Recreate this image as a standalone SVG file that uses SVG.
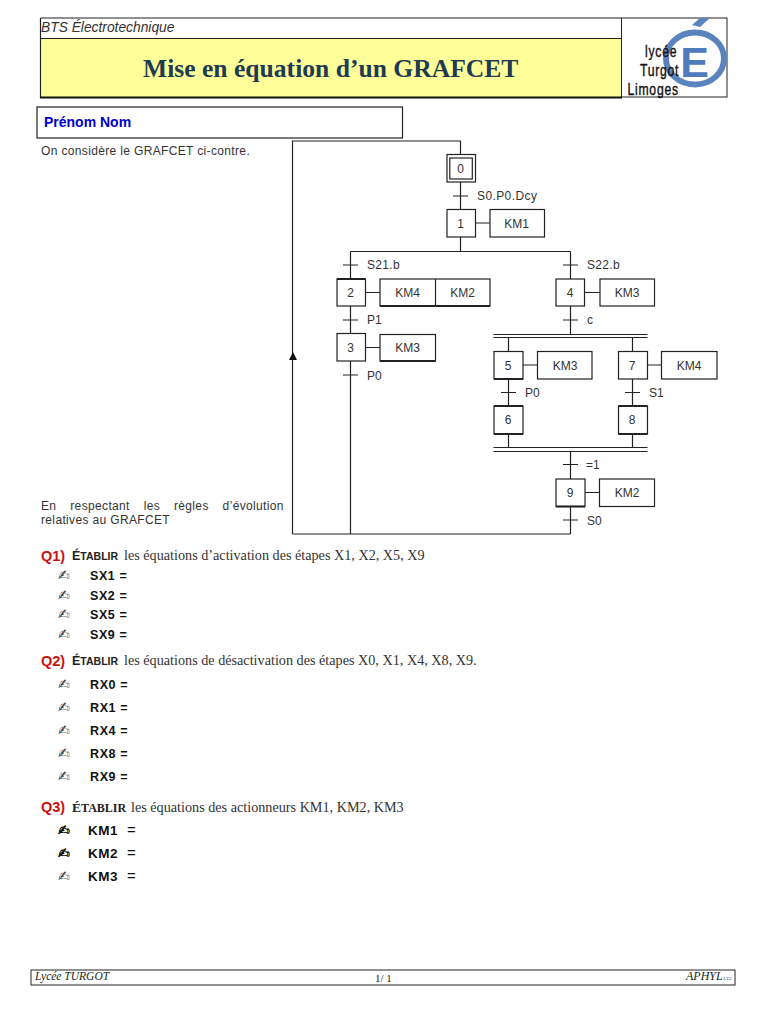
<svg xmlns="http://www.w3.org/2000/svg" width="768" height="1024" viewBox="0 0 768 1024">
<style>
.s{fill:#fff;stroke:#222;stroke-width:1.2}
.l{stroke:#222;stroke-width:1.2;fill:none}
.h{stroke:#222;stroke-width:2;fill:none}
text{font-family:"Liberation Sans",Arial,sans-serif}
.g{font-size:12px;fill:#333}
.m{text-anchor:middle}
.b{font-size:12px;fill:#333;letter-spacing:.35px}
.q{font-size:14.500px;font-weight:bold;fill:#cc1111}
.c{font-size:12.500px;font-weight:bold;fill:#222}
.c2{font-size:10.500px}
.t{font-family:"Liberation Serif",serif;font-size:14.200px;fill:#333}
.i{font-size:12.500px;font-weight:bold;fill:#111;letter-spacing:.6px}
.k{font-size:13.500px;font-weight:bold;fill:#111;letter-spacing:.5px}
.e{font-size:15px;font-weight:normal}
.p{font-family:"DejaVu Sans",sans-serif;font-size:14px;fill:#333}
.pb{font-family:"DejaVu Sans",sans-serif;font-size:14px;fill:#000;stroke:#000;stroke-width:.4}
.f{font-family:"Liberation Serif",serif;font-size:11.500px;font-style:italic;fill:#222}
.lg{font-size:16.500px;fill:#111;stroke:#111;stroke-width:.4;letter-spacing:1px}
</style>
<g id="header">
<rect x="40.500" y="38.500" width="581" height="59" fill="#ffff99"/>
<path class="l" d="M40.500 18H621.500M40.500 18V98M40.500 38.500H621.500"/>
<path d="M40 97.500H622" stroke="#111" stroke-width="2"/>
<text x="41" y="32" style="font-size:13.800px;font-style:italic;fill:#333">BTS Électrotechnique</text>
<text x="143" y="76.500" style="font-family:'Liberation Serif',serif;font-size:25.600px;font-weight:bold;fill:#1f3b52">Mise en équation d’un GRAFCET</text>
</g>
<g id="logo">
<rect x="621.500" y="18" width="105.500" height="79" fill="#fff" stroke="#222" stroke-width="1"/>
<ellipse cx="695" cy="58.500" rx="29" ry="26" fill="none" stroke="#5b84bf" stroke-width="6"/>
<polygon points="692,25 700,18 710,18 700,27" fill="#5b84bf"/>
<text x="694.500" y="77" text-anchor="middle" style="font-size:43px;font-weight:bold;fill:#4f7cbd">E</text>
<text class="lg" transform="translate(645,57) scale(.74,1)">lycée</text>
<text class="lg" transform="translate(640,76) scale(.74,1)">Turgot</text>
<text class="lg" transform="translate(627.500,95) scale(.74,1)">Limoges</text>
</g>
<g id="name">
<rect x="37" y="107" width="365.500" height="31" fill="#fff" stroke="#222" stroke-width="1.200"/>
<text x="44" y="126.500" style="font-size:14px;font-weight:bold;fill:#0000cc">Prénom Nom</text>
</g>
<text class="b" x="41" y="155">On considère le GRAFCET ci-contre.</text>
<text class="b" x="41" y="510" style="word-spacing:10.200px">En respectant les règles d’évolution</text>
<text class="b" x="41" y="524">relatives au GRAFCET</text>
<g id="connectors">
<path class="l" d="M292.500 534V141H460.500V155M460.500 182V209.500M453 196H468M475.500 223H490M460.500 237V251.500M350.500 251.500H570.500M350.500 251.500V279M343 265H358M570.500 251.500V279M563 265H578M365.500 292.500H380M350.500 306V333.500M343 320H358M365.500 347.500H380M350.500 361V534M343 375H358M584.500 292.500H600M570.500 306V334.500M563 320H578M493.500 334.500H647.500M493.500 337.500H647.500M508.500 337.500V351.500M632.500 337.500V351.500M523 365H537.500M647.500 365H661.500M508.500 379V406M501 392.500H516M632.500 379V406M625 392.500H640M508.500 434V447.500M632.500 434V447.500M493.500 447.500H647.500M493.500 451.500H647.500M570.500 451.500V479M563 464.500H578M584.500 492.500H599.500M570.500 506V534M563 520H578M292.500 534H570.500"/>
<polygon points="293,352 289,360 297,360" fill="#111"/>
</g>
<g id="step0"><rect class="s" x="447" y="154.500" width="28.500" height="27.500"/><rect class="s" x="449.800" y="158" width="22.500" height="21"/><text class="g m" x="460.500" y="172.500">0</text></g>
<g id="step1"><rect class="s" x="447" y="209.500" width="28.500" height="27.500"/><text class="g m" x="460.500" y="227.500">1</text></g>
<g id="action1"><rect class="s" x="490" y="209.500" width="54.500" height="27.500"/><text class="g m" x="516.500" y="227.500">KM1</text></g>
<g id="step2"><rect class="s" x="337" y="279" width="28.500" height="27"/><path class="h" d="M337 279H365.500"/><text class="g m" x="350.500" y="297">2</text></g>
<g id="action2"><rect class="s" x="380" y="279" width="110" height="27"/><path class="l" d="M435.500 279V306"/><path class="h" d="M380 306H490"/><text class="g m" x="407.500" y="297">KM4</text><text class="g m" x="462.500" y="297">KM2</text></g>
<g id="step3"><rect class="s" x="337" y="333.500" width="28.500" height="27.500"/><text class="g m" x="350.500" y="351.500">3</text></g>
<g id="action3"><rect class="s" x="380" y="334.500" width="55.500" height="26.500"/><path class="h" d="M380 361H435.500"/><text class="g m" x="407.500" y="351.500">KM3</text></g>
<g id="step4"><rect class="s" x="556" y="279" width="28.500" height="27"/><text class="g m" x="570" y="297">4</text></g>
<g id="action4"><rect class="s" x="600" y="279" width="54.500" height="27"/><text class="g m" x="627" y="297">KM3</text></g>
<g id="step5"><rect class="s" x="494" y="351.500" width="29" height="27.500"/><path class="h" d="M494 379H523"/><text class="g m" x="508" y="369.500">5</text></g>
<g id="action5"><rect class="s" x="537.500" y="351.500" width="54.500" height="27.500"/><text class="g m" x="565" y="369.500">KM3</text></g>
<g id="step7"><rect class="s" x="618.500" y="351.500" width="29" height="27.500"/><text class="g m" x="632" y="369.500">7</text></g>
<g id="action7"><rect class="s" x="661.500" y="351.500" width="55.500" height="27.500"/><text class="g m" x="689" y="369.500">KM4</text></g>
<g id="step6"><rect class="s" x="494" y="406" width="29" height="28"/><path class="h" d="M494 434H523M494 406H523"/><text class="g m" x="508" y="424">6</text></g>
<g id="step8"><rect class="s" x="618.500" y="406" width="29" height="28"/><path class="h" d="M618.500 434H647.500M618.500 406H647.500"/><text class="g m" x="632" y="424">8</text></g>
<g id="step9"><rect class="s" x="556" y="479" width="29" height="27.500"/><path class="h" d="M556 506.500H585"/><text class="g m" x="570" y="497">9</text></g>
<g id="action9"><rect class="s" x="599.500" y="479" width="55" height="27.500"/><text class="g m" x="627" y="497">KM2</text></g>
<g id="labels">
<text class="g" x="477" y="200" style="letter-spacing:.4px">S0.P0.Dcy</text>
<text class="g" x="367" y="269" style="letter-spacing:.3px">S21.b</text>
<text class="g" x="587" y="269" style="letter-spacing:.3px">S22.b</text>
<text class="g" x="367" y="324">P1</text>
<text class="g" x="587" y="324">c</text>
<text class="g" x="367" y="380">P0</text>
<text class="g" x="525" y="397">P0</text>
<text class="g" x="649" y="397">S1</text>
<text class="g" x="586" y="469">=1</text>
<text class="g" x="587" y="525">S0</text>
</g>
<g id="q1">
<text class="q" x="41" y="561">Q1)</text>
<text class="c" x="72" y="560">É<tspan class="c2">TABLIR</tspan></text>
<text class="t" x="124" y="560">les équations d’activation des étapes X1, X2, X5, X9</text>
<text class="p" x="58" y="580">✍</text><text class="i" x="90" y="580">SX1 =</text>
<text class="p" x="58" y="600">✍</text><text class="i" x="90" y="600">SX2 =</text>
<text class="p" x="58" y="619">✍</text><text class="i" x="90" y="619">SX5 =</text>
<text class="p" x="58" y="639">✍</text><text class="i" x="90" y="639">SX9 =</text>
</g>
<g id="q2">
<text class="q" x="41" y="666">Q2)</text>
<text class="c" x="72" y="665">É<tspan class="c2">TABLIR</tspan></text>
<text class="t" x="124" y="665">les équations de désactivation des étapes X0, X1, X4, X8, X9.</text>
<text class="p" x="58" y="689">✍</text><text class="i" x="90" y="689">RX0 =</text>
<text class="p" x="58" y="712">✍</text><text class="i" x="90" y="712">RX1 =</text>
<text class="p" x="58" y="735">✍</text><text class="i" x="90" y="735">RX4 =</text>
<text class="p" x="58" y="758">✍</text><text class="i" x="90" y="758">RX8 =</text>
<text class="p" x="58" y="781">✍</text><text class="i" x="90" y="781">RX9 =</text>
</g>
<g id="q3">
<text class="q" x="41" y="812">Q3)</text>
<text x="72" y="812" style="font-family:'Liberation Serif',serif;font-size:13.500px;font-weight:bold;fill:#222">É<tspan font-size="12">TABLIR</tspan></text>
<text class="t" x="131" y="812">les équations des actionneurs KM1, KM2, KM3</text>
<text class="pb" x="58" y="835">✍</text><text class="k" x="88" y="835">KM1 <tspan class="e" x="127">=</tspan></text>
<text class="pb" x="58" y="858">✍</text><text class="k" x="88" y="858">KM2 <tspan class="e" x="127">=</tspan></text>
<text class="p" x="58" y="881">✍</text><text class="k" x="88" y="881">KM3 <tspan class="e" x="127">=</tspan></text>
</g>
<g id="footer">
<rect x="31" y="970" width="704" height="15" fill="#fff" stroke="#222" stroke-width="1"/>
<text class="f" x="35" y="980">Lycée TURGOT</text>
<text x="375" y="982" style="font-family:'Liberation Serif',serif;font-size:11px;fill:#222">1/ 1</text>
<text class="f" x="686" y="980" style="font-size:12px">APHYL<tspan font-size="5">1/12</tspan></text>
</g>
</svg>
